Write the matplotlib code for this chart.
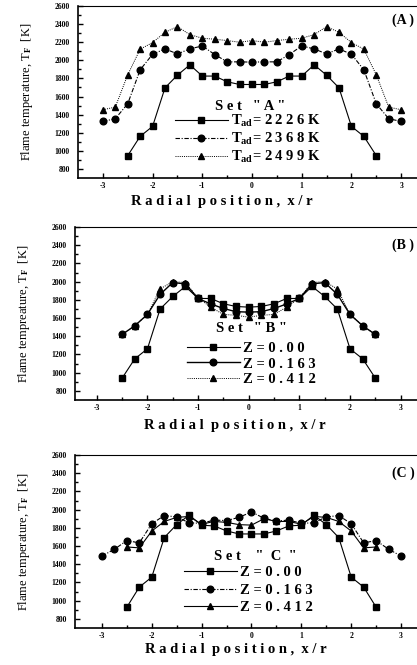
import numpy as np
import matplotlib
matplotlib.use('Agg')
import matplotlib.pyplot as plt

plt.rcParams['font.family'] = 'serif'
plt.rcParams['font.serif'] = ['Liberation Serif', 'DejaVu Serif']
plt.rcParams['mathtext.fontset'] = 'custom'
plt.rcParams['mathtext.rm'] = 'Liberation Serif:bold'
plt.rcParams['mathtext.it'] = 'Liberation Serif:bold'
plt.rcParams['mathtext.bf'] = 'Liberation Serif:bold'

#x positions
x_wide = [-3, -2.75, -2.5, -2.25, -2, -1.75, -1.5, -1.25, -1, -0.75, -0.5, -0.25, 0,
          0.25, 0.5, 0.75, 1, 1.25, 1.5, 1.75, 2, 2.25, 2.5, 2.75, 3]
x_narrow = [-2.5, -2.25, -2, -1.75, -1.5, -1.25, -1, -0.75, -0.5, -0.25, 0,
            0.25, 0.5, 0.75, 1, 1.25, 1.5, 1.75, 2, 2.25, 2.5]

#set A
a_2226 = [947, 1160, 1270, 1696, 1836, 1950, 1826, 1826, 1763, 1733, 1733,
          1733, 1763, 1826, 1826, 1950, 1836, 1696, 1270, 1160, 947]
a_2368 = [1325, 1355, 1520, 1895, 2067, 2126, 2071, 2126, 2159, 2064, 1983, 1983, 1980,
          1983, 1983, 2064, 2159, 2126, 2071, 2126, 2067, 1895, 1520, 1355, 1325]
a_2499 = [1454, 1483, 1840, 2123, 2196, 2310, 2372, 2284, 2244, 2233, 2218, 2200, 2218,
          2200, 2218, 2233, 2244, 2284, 2372, 2310, 2196, 2123, 1840, 1483, 1454]

#set B
b_000 = [940, 1152, 1262, 1699, 1837, 1947, 1815, 1815, 1757, 1727, 1720,
         1727, 1757, 1815, 1815, 1947, 1837, 1699, 1262, 1152, 940]
b_163 = [1420, 1515, 1640, 1860, 1990, 1975, 1815, 1755, 1705, 1670, 1665,
         1670, 1705, 1755, 1815, 1975, 1990, 1860, 1640, 1515, 1420]
b_412 = [1420, 1515, 1640, 1920, 2000, 1990, 1820, 1720, 1640, 1630, 1610,
         1630, 1640, 1720, 1820, 1990, 2000, 1920, 1640, 1515, 1420]

#set C
c_000 = [929, 1149, 1259, 1693, 1836, 1939, 1829, 1821, 1766, 1733, 1733,
         1733, 1766, 1821, 1829, 1939, 1836, 1693, 1259, 1149, 929]
c_163 = [1490, 1565, 1660, 1635, 1845, 1935, 1920, 1855, 1850, 1885, 1880, 1915, 1975,
         1905, 1875, 1885, 1850, 1855, 1920, 1935, 1845, 1635, 1660, 1565, 1490]
c_412 = [1590, 1580, 1765, 1870, 1915, 1925, 1840, 1870, 1860, 1835, 1830,
         1900, 1870, 1870, 1840, 1925, 1915, 1870, 1765, 1580, 1590]

a_labels = ['T$_{\\rm ad}$= 2 2 2 6 K', 'T$_{\\rm ad}$= 2 3 6 8 K', 'T$_{\\rm ad}$= 2 4 9 9 K']
z_labels = ['Z = 0 . 0 0', 'Z = 0 . 1 6 3', 'Z = 0 . 4 1 2']
xtick_labels = ['-3', '-2', '-1', '0', '1', '2', '3']

W, H = 417, 665
fig = plt.figure(figsize=(W / 100, H / 100), dpi=100)


def make_axes(left, top, bottom, right=426):
    return fig.add_axes([left / W, 1 - bottom / H, (right - left) / W, (bottom - top) / H])


def style(ax, xlim, ylabel, xlabel, xlab_px, xlab_py, tag, tag_py):
    ax.set_xlim(*xlim)
    ax.set_ylim(700, 2600)
    ax.set_yticks(range(800, 2601, 200))
    ax.set_yticks(range(800, 2601, 100), minor=True)
    ax.set_xticks([-3, -2, -1, 0, 1, 2, 3])
    ax.set_xticklabels(xtick_labels)
    ax.set_xticks(np.arange(-3, 3.01, 0.5), minor=True)
    ax.tick_params(which='both', direction='in', width=1, labelsize=5.5)
    ax.tick_params(which='major', length=3.5)
    ax.tick_params(which='minor', length=2)
    ax.tick_params(axis='y', pad=6)
    ax.tick_params(axis='x', pad=3)
    for lab in ax.get_xticklabels() + ax.get_yticklabels():
        lab.set_fontweight('bold')
    for s in ['left', 'bottom']:
        ax.spines[s].set_linewidth(1.2)
    ax.spines['top'].set_linewidth(0.8)
    ax.set_ylabel(ylabel, fontsize=9, labelpad=14)
    fig.text(xlab_px / W, 1 - xlab_py / H, xlabel, fontsize=10.5, fontweight='bold',
             ha='center', va='center')
    fig.text(392 / W, 1 - tag_py / H, tag, fontsize=10, fontweight='bold',
             ha='left', va='center')


def add_legend(ax, title, tx, ty, lx, ly, spacing):
    fig.text(tx / W, 1 - ty / H, title, fontsize=10.5, fontweight='bold',
             ha='center', va='center')
    leg = ax.legend(loc='upper left', frameon=False,
                    bbox_to_anchor=(lx / W, 1 - ly / H), bbox_transform=fig.transFigure,
                    fontsize=10.5, handlelength=3.6, handletextpad=0.25,
                    labelspacing=spacing, borderpad=0, borderaxespad=0)
    for t in leg.get_texts():
        t.set_fontweight('bold')


ms = 4.8
solid = '-'
dashdot = (0, (4, 1.5, 1, 1.5))
dotted = (0, (1, 1.2))

#panel A
ax = make_axes(78, 6, 178)
ax.plot(x_narrow, a_2226, color='k', lw=0.8, ls=solid, marker='s', ms=ms, label=a_labels[0])
ax.plot(x_wide, a_2368, color='k', lw=0.8, ls=dashdot, marker='o', ms=ms, label=a_labels[1])
ax.plot(x_wide, a_2499, color='k', lw=0.7, ls=dotted, marker='^', ms=ms, label=a_labels[2])
style(ax, (-3.5, 3.5), 'Flame temperature, T$_{\\rm F}$  [K]',
      'R a d i a l  p o s i t i o n ,  x / r', 222, 201, '(A )', 20)
add_legend(ax, 'S e t   " A "', 250, 107, 175, 113, 0.12)

#panel B
ax = make_axes(75, 227, 400)
ax.plot(x_narrow, b_000, color='k', lw=0.8, ls=solid, marker='s', ms=ms, label=z_labels[0])
ax.plot(x_narrow, b_163, color='k', lw=1.0, ls=solid, marker='o', ms=ms, label=z_labels[1])
ax.plot(x_narrow, b_412, color='k', lw=0.7, ls=dotted, marker='^', ms=ms, label=z_labels[2])
style(ax, (-3.43, 3.5), 'Flame tempreature, T$_{\\rm F}$  [K]',
      'R a d i a l  p o s i t i o n ,  x / r', 235, 425, '(B )', 245)
add_legend(ax, 'S e t   " B "', 252, 328, 187, 342, 0.15)

#panel C
ax = make_axes(75, 455, 628)
ax.plot(x_narrow, c_000, color='k', lw=0.8, ls=solid, marker='s', ms=ms, label=z_labels[0])
ax.plot(x_wide, c_163, color='k', lw=0.8, ls=dashdot, marker='o', ms=ms, label=z_labels[1])
ax.plot(x_narrow, c_412, color='k', lw=0.8, ls=solid, marker='^', ms=ms, label=z_labels[2])
style(ax, (-3.54, 3.5), 'Flame temperature, T$_{\\rm F}$  [K]',
      'R a d i a l  p o s i t i o n ,  x / r', 236, 650, '(C )', 473)
add_legend(ax, 'S e t    "  C  "', 255, 557, 184, 566, 0.3)

fig.savefig('out.png', dpi=100)
